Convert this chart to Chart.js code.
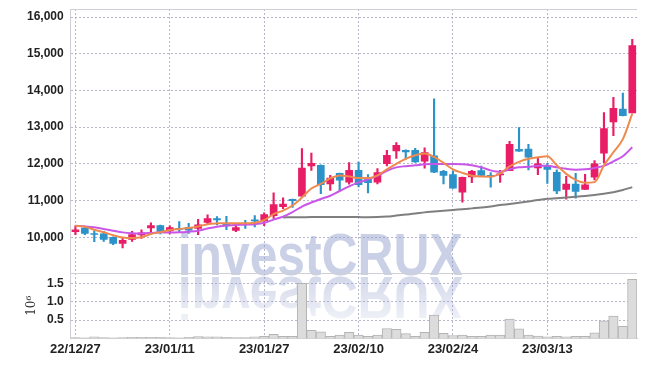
<!DOCTYPE html>
<html><head><meta charset="utf-8">
<script src="https://cdn.jsdelivr.net/npm/chart.js@4/dist/chart.umd.min.js"></script>
<style>html,body{margin:0;padding:0;background:#fff}</style>
</head><body>
<canvas id="c" width="645" height="366"></canvas>
<script>
const dates = ['22/12/27','22/12/28','22/12/29','23/01/02','23/01/03','23/01/04','23/01/05','23/01/06','23/01/09','23/01/10',
'23/01/11','23/01/12','23/01/13','23/01/16','23/01/17','23/01/18','23/01/19','23/01/20','23/01/25','23/01/26',
'23/01/27','23/01/30','23/01/31','23/02/01','23/02/02','23/02/03','23/02/06','23/02/07','23/02/08','23/02/09',
'23/02/10','23/02/13','23/02/14','23/02/15','23/02/16','23/02/17','23/02/20','23/02/21','23/02/22','23/02/23',
'23/02/24','23/02/27','23/02/28','23/03/02','23/03/03','23/03/06','23/03/07','23/03/08','23/03/09','23/03/10',
'23/03/13','23/03/14','23/03/15','23/03/16','23/03/17','23/03/20','23/03/21','23/03/22','23/03/23','23/03/24'];

const open = [10150,10250,10100,10090,10000,9830,9940,10060,10250,10320,
10170,10240,10270,10240,10400,10505,10350,10185,10370,10470,
10450,10590,10835,11035,11120,11940,11960,11450,11740,11500,
11820,11595,11500,12005,12350,12370,12370,12075,12215,11795,
11710,11230,11640,11815,11685,11695,11815,12395,12400,11890,
11955,11770,11305,11450,11300,11635,12290,13145,13495,13390];
const high = [10310,10260,10180,10160,10010,9995,10160,10200,10390,10330,
10310,10425,10380,10490,10610,10560,10570,10350,10460,10590,
10665,11210,11075,11040,12415,12290,11970,11685,11750,12035,
12050,11705,11870,12370,12580,12380,12420,12435,13770,11825,
11800,11640,11825,11940,11760,11820,12615,12990,12530,12155,
12015,11835,11660,11740,11715,12090,13400,13815,13925,15390];
const low = [10070,10070,9880,9885,9795,9705,9885,9970,10100,10090,
10090,10125,10105,10070,10360,10335,10205,10150,10240,10280,
10315,10515,10775,10815,11120,11820,11185,11275,11265,11445,
11370,11210,11455,11940,12145,12125,12040,11885,11760,11455,
11330,10955,11485,11680,11365,11495,11815,12340,11835,11705,
11465,11190,11040,11065,11300,11560,12035,12770,13305,13390];
const close = [10200,10105,10075,9940,9830,9915,10075,10120,10320,10160,
10260,10215,10190,10335,10505,10470,10335,10260,10345,10445,
10615,10890,10900,10995,11885,12015,11430,11610,11555,11820,
11430,11485,11760,12235,12505,12325,12050,12305,11775,11685,
11340,11630,11795,11685,11650,11730,12530,12345,12180,12000,
11850,11265,11450,11250,11430,12000,12960,13515,13310,15225];
const volume = [20000,15000,40000,20000,15000,20000,30000,30000,30000,30000,
25000,15000,30000,50000,45000,40000,30000,20000,20000,40000,
55000,110000,55000,55000,1510000,220000,180000,55000,90000,165000,
90000,55000,90000,270000,250000,130000,55000,165000,640000,140000,
80000,90000,55000,55000,90000,90000,530000,260000,90000,65000,
40000,55000,40000,55000,55000,150000,480000,610000,330000,1620000];
const maShort = [10315,10285,10205,10137,10055,9995,9978,10000,10088,10137,
10197,10225,10252,10293,10356,10378,10384,10378,10378,10397,
10466,10630,10726,10863,11082,11329,11452,11603,11685,11658,
11611,11611,11685,11850,12000,12137,12233,12280,12187,12027,
11850,11754,11677,11652,11649,11740,11932,12055,12137,12178,
12206,11959,11726,11562,11485,11502,11959,12315,12672,13370];
const maMid = [10315,10296,10269,10225,10178,10132,10110,10104,10115,10132,
10129,10134,10151,10178,10238,10288,10315,10334,10342,10356,
10392,10480,10562,10685,10836,10945,11041,11129,11260,11384,
11493,11575,11671,11808,11904,11937,11959,11986,11995,11995,
11995,11992,11959,11904,11822,11781,11850,11904,11918,11945,
11945,11904,11863,11841,11850,11890,11945,12069,12206,12452];
const maLong = [null,null,null,null,null,null,null,null,null,null,
null,null,null,null,null,null,null,null,null,null,
null,null,10540,10543,10545,10548,10548,10551,10551,10551,
10548,10545,10548,10562,10589,10617,10644,10677,10699,10721,
10743,10764,10786,10808,10836,10877,10904,10937,10973,11014,
11047,11063,11082,11101,11123,11151,11184,11225,11288,11365];
const priceTicks = [10000,11000,12000,13000,14000,15000,16000];
const volumeTicks = [500000,1000000,1500000];

const UP = '#e81d66', DOWN = '#2b93c9';
const candleColor = i => close[i] >= open[i] ? UP : DOWN;
const gridColor = 'rgba(170,170,195,0.85)';
const axisColor = '#cfcfd6';
const yFont = {family: "'Liberation Sans',sans-serif", size: 12, weight: 'bold'};
const xFont = {family: "'Liberation Sans',sans-serif", size: 13, weight: 'bold'};
const noPad = s => { s.paddingTop = 0; s.paddingBottom = 0; };

const framePlugin = {
  id: 'frame',
  afterDraw(chart) {
    const {ctx, chartArea, scales} = chart;
    ctx.save();
    ctx.strokeStyle = axisColor; ctx.lineWidth = 1;
    ctx.beginPath();
    ctx.moveTo(chartArea.left, Math.round(chartArea.top) + 0.5);
    ctx.lineTo(chartArea.right, Math.round(chartArea.top) + 0.5);
    ctx.moveTo(chartArea.left, Math.round(scales.y.bottom) + 0.5);
    ctx.lineTo(chartArea.right, Math.round(scales.y.bottom) + 0.5);
    ctx.stroke();
    ctx.restore();
  }
};
const watermark = {
  id: 'wm',
  beforeDatasetsDraw(chart) {
    const {ctx, chartArea} = chart;
    ctx.save();
    ctx.font = 'bold 60px "Liberation Sans", sans-serif';
    const text = 'investCRUX';
    const w = ctx.measureText(text).width;
    const x0 = chartArea.left + 107, base = chartArea.top + 266;
    ctx.translate(x0, base);
    ctx.scale(285 / w, 1);
    ctx.fillStyle = 'rgba(150,162,205,0.5)';
    ctx.fillText(text, 0, 0);
    ctx.scale(1, -1);
    const g = ctx.createLinearGradient(0, 0, 0, -45);
    g.addColorStop(0, 'rgba(150,162,205,0.42)');
    g.addColorStop(1, 'rgba(150,162,205,0.15)');
    ctx.fillStyle = g;
    ctx.fillText(text, 0, -2);
    ctx.restore();
  }
};

new Chart(document.getElementById('c'), {
  data: {
    labels: dates,
    datasets: [
      {type: 'line', label: 'MA5', data: maShort, borderColor: '#ee8a4e', borderWidth: 2, pointRadius: 0, cubicInterpolationMode: 'monotone', yAxisID: 'y', order: 0},
      {type: 'line', label: 'MA20', data: maMid, borderColor: '#c956e8', borderWidth: 2, pointRadius: 0, cubicInterpolationMode: 'monotone', yAxisID: 'y', order: 0},
      {type: 'line', label: 'MA60', data: maLong, borderColor: '#7f7f7f', borderWidth: 2, pointRadius: 0, cubicInterpolationMode: 'monotone', yAxisID: 'y', order: 0},
      {type: 'bar', label: 'body', data: dates.map((_, i) => [open[i], close[i]]), backgroundColor: dates.map((_, i) => candleColor(i)), barThickness: 7, grouped: false, minBarLength: 1, yAxisID: 'y', order: 1},
      {type: 'bar', label: 'wick', data: dates.map((_, i) => [low[i], high[i]]), backgroundColor: dates.map((_, i) => candleColor(i)), barThickness: 1.5, grouped: false, yAxisID: 'y', order: 2},
      {type: 'bar', label: 'volume', data: volume, backgroundColor: '#dcdcdc', borderColor: '#b4b4b4', borderWidth: 1, barPercentage: 1, categoryPercentage: 1, grouped: false, yAxisID: 'yv', order: 3}
    ]
  },
  options: {
    responsive: false,
    animation: false,
    events: [],
    layout: {padding: {left: 20, right: 8, top: 9, bottom: 6}},
    plugins: {legend: {display: false}, tooltip: {enabled: false}},
    scales: {
      x: {
        type: 'category', offset: true,
        grid: {offset: false, drawTicks: false, color: c => (c.index % 10 === 0 ? gridColor : 'rgba(0,0,0,0)')},
        border: {display: true, color: axisColor, dash: [2, 2]},
        ticks: {autoSkip: false, maxRotation: 0, padding: 3, color: '#222', font: xFont,
          callback: (v, i) => (i % 10 === 0 ? dates[i] : '')}
      },
      yv: {
        type: 'linear', position: 'left', stack: 'p', stackWeight: 1, min: 0, max: 1786000,
        afterBuildTicks: a => { a.ticks = volumeTicks.map(v => ({value: v})); },
        afterFit: noPad,
        grid: {drawTicks: false, color: gridColor},
        border: {display: true, color: axisColor, dash: [2, 2]},
        ticks: {autoSkip: false, padding: 7, color: '#222', font: yFont, callback: v => (v / 1e6).toFixed(1)},
        title: {display: true, text: '10⁶', color: '#333', font: {family: "'DejaVu Serif',serif", size: 12}, padding: {top: 5, bottom: 0}}
      },
      y: {
        type: 'linear', position: 'left', stack: 'p', stackWeight: 4.05, min: 9020, max: 16220,
        afterBuildTicks: a => { a.ticks = priceTicks.map(v => ({value: v})); },
        afterFit: noPad,
        grid: {drawTicks: false, color: gridColor},
        border: {display: true, color: axisColor, dash: [2, 2]},
        ticks: {autoSkip: false, padding: 7, color: '#222', font: yFont, callback: v => v.toLocaleString('en-US')}
      }
    }
  },
  plugins: [watermark, framePlugin]
});
</script>
</body></html>
